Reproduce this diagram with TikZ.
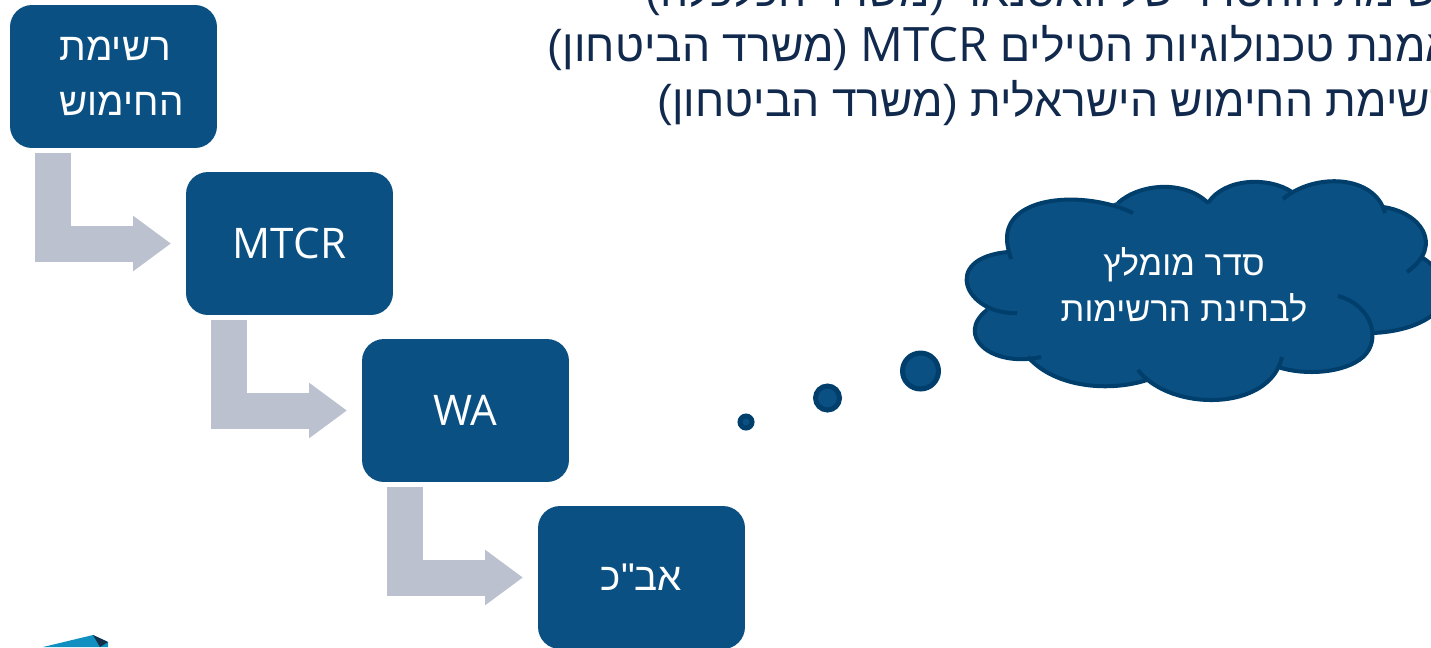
\documentclass[tikz,border=0pt]{standalone}
\usepackage{fontspec}
\setmainfont{Open Sans}
\newfontfamily\hebfont[Script=Hebrew]{Liberation Sans}
\TeXXeTstate=1
\usetikzlibrary{arrows.meta}

\definecolor{boxblue}{HTML}{0A5083}
\definecolor{cloudline}{HTML}{003E6B}
\definecolor{arrowgray}{HTML}{BBC1CE}
\definecolor{titleblue}{HTML}{10294D}
\definecolor{logoblue}{HTML}{1090C0}
\definecolor{logodark}{HTML}{123049}

\tikzset{
    listbox/.style={fill=boxblue, text=white, rounded corners=0.44cm, minimum width=4.14cm,
        minimum height=2.86cm, inner sep=0pt, outer sep=0pt, align=center, font=\fontsize{24}{31}\selectfont},
    hebbox/.style={listbox, font=\hebfont\fontsize{22}{31.5}\selectfont},
    bentarrow/.style={draw=arrowgray, line width=0.72cm,
        -{Triangle[length=0.76cm, width=1.06cm]}, shorten <=0.1cm, shorten >=0.3cm},
    bubble/.style={circle, fill=boxblue, draw=cloudline, line width=0.1cm, inner sep=0pt},
    titleline/.style={anchor=base east, text=titleblue, inner sep=0pt, font=\hebfont\fontsize{25.3}{30}\selectfont},
}

\begin{document}
\begin{tikzpicture}[x=0.02cm, y=-0.02cm]
    \useasboundingbox (0,0) rectangle (1431,647);
    \clip (0,0) rectangle (1431,647);

    % the boxes
    \node[hebbox, align=left] (hime) at (113.5,76.5) {\hspace*{0.32cm}\beginR רשימת\endR\\\hspace*{0.32cm}\beginR החימוש\endR};
    \node[listbox] (mtcr) at (289.5,243.5) {MTCR};
    \node[listbox] (wa) at (465.5,410.5) {WA};
    \node[hebbox] (abc) at (641.5,577.5) {\beginR אב"כ\endR};

    % the bent arrows
    \draw[bentarrow] ([xshift=0.86cm]hime.south west) |- (mtcr.west);
    \draw[bentarrow] ([xshift=0.86cm]mtcr.south west) |- (wa.west);
    \draw[bentarrow] ([xshift=0.86cm]wa.south west) |- (abc.west);

    % the title lines, running off the page
    \node[titleline] (lineone) at (1462,6) {\beginR רשימת ההסדר של וואסנאר (משרד הכלכלה)\endR};
    \node[titleline] (linetwo) at (1454,61) {\beginR אמנת טכנולוגיות הטילים \beginL{\rmfamily\fontsize{27}{30}\selectfont MTCR}\endL{} (משרד הביטחון)\endR};
    \node[titleline] (linethree) at (1454,116) {\beginR רשימת החימוש הישראלית (משרד הביטחון)\endR};

    % the thought bubbles
    \node[bubble, minimum size=0.24cm] (bubbleone) at (746,422) {};
    \node[bubble, minimum size=0.48cm] (bubbletwo) at (827.5,398) {};
    \node[bubble, minimum size=0.72cm] (bubblethree) at (920.5,371) {};

    % the cloud
    \filldraw[boxblue, line width=0.06cm, line join=round] (1008,252) -- (1118,203) -- (1208,203) -- (1290,193) -- (1385,209) -- (1423,258)
        -- (1373,333) -- (1278,367) -- (1147,380) -- (1028,357) -- (987,310) -- cycle;
    \filldraw[fill=boxblue, draw=cloudline, line width=0.08cm]
        (1133,213) .. controls (1085,190) and (1005,195) .. (1007,240) .. controls (1007,245) and (1009,252) .. (1011,259)
        (1118,203) .. controls (1140,183) and (1185,180) .. (1208,203)
        (1208,203) .. controls (1225,177) and (1270,177) .. (1292,192)
        (1283,199) .. controls (1315,172) and (1375,175) .. (1385,213)
        (1383,207) .. controls (1420,212) and (1445,245) .. (1407,272)
        (1423,258) .. controls (1470,290) and (1440,330) .. (1373,333)
        (1338,296) .. controls (1372,305) and (1382,340) .. (1363,357) .. controls (1345,373) and (1305,376) .. (1278,367)
        (1282,357) .. controls (1270,412) and (1170,412) .. (1138,370)
        (1147,380) .. controls (1110,392) and (1055,388) .. (1028,357)
        (1041,357) .. controls (990,368) and (955,335) .. (987,310)
        (1017,313) .. controls (965,315) and (940,258) .. (1008,252);
    \node[text=white, align=center, inner sep=0pt, font=\hebfont\fontsize{19.6}{26}\selectfont] (cloudtext) at (1184,285)
        {\beginR סדר מומלץ\endR\\\beginR לבחינת הרשימות\endR};

    % the piece of the logo at the page's foot
    \fill[logoblue] (43,647) -- (93,635) -- (108,642) -- (108,647) -- cycle;
    \fill[logodark] (93,635) -- (108,642) -- (100,647) -- cycle;
\end{tikzpicture}
\end{document}
